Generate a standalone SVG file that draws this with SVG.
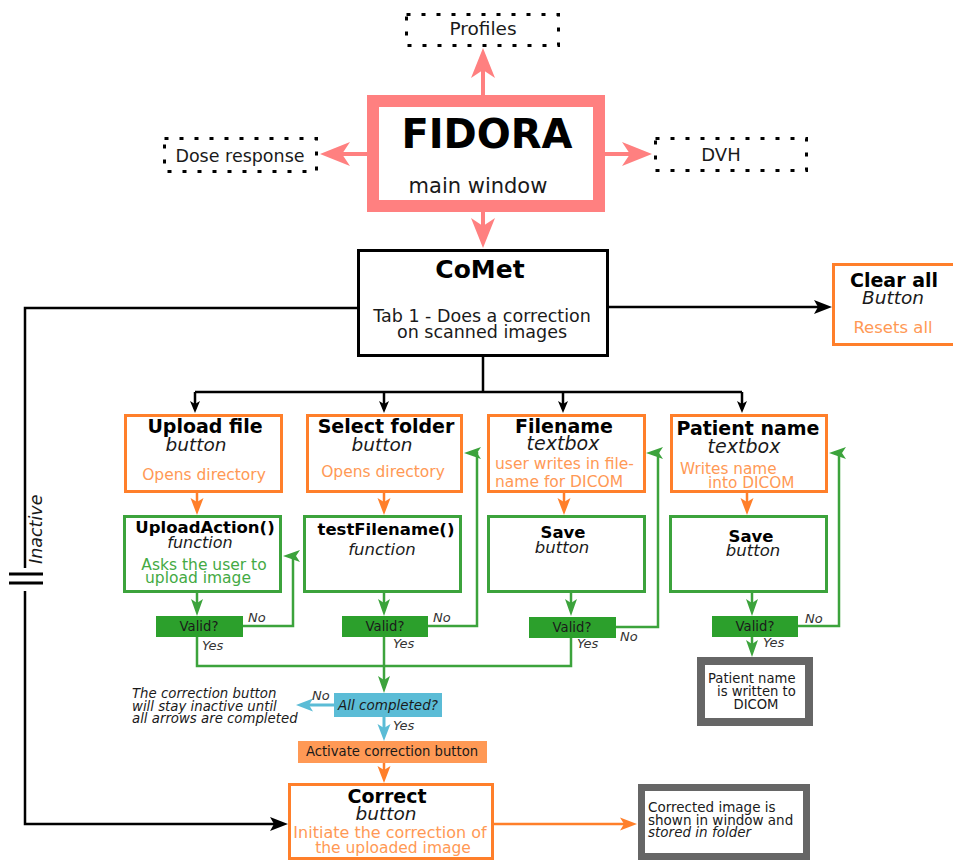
<svg xmlns="http://www.w3.org/2000/svg" width="953" height="861" viewBox="0 0 953 861">
<style>
text{font-family:"DejaVu Sans","Liberation Sans",sans-serif;}
.b{font-weight:bold;}
.i{font-style:italic;}
.m{text-anchor:middle;}
.k{fill:#000;}
.ot{fill:#ff9955;}
.gt{fill:#44aa44;}
.lab{font-style:italic;font-size:13px;fill:#333;}
.dot{fill:#fff;stroke:#000;stroke-width:3;stroke-dasharray:4 11;}
.ob{fill:#fff;stroke:#ff7f2a;stroke-width:3;}
.gb{fill:#fff;stroke:#3ca33c;stroke-width:3;}
.vb{fill:#2ca02c;}
.gray{fill:#fff;stroke:#666;}
.pk{fill:none;stroke:#ff8080;stroke-width:4;}
.bl{fill:none;stroke:#000;stroke-width:2.5;}
.gl{fill:none;stroke:#3ca33c;stroke-width:2.5;}
.ol{fill:none;stroke:#ff7f2a;stroke-width:2.5;}
.cl{fill:none;stroke:#5bbcd6;stroke-width:3;}
</style>
<defs>
<marker id="aPink" markerUnits="userSpaceOnUse" viewBox="-22 -13 34 26" markerWidth="34" markerHeight="26" refX="0" refY="0" orient="auto" overflow="visible"><path d="M10,0 L-20,-12 L-12,0 L-20,12 Z" fill="#ff8080"/></marker>
<marker id="aBlk" markerUnits="userSpaceOnUse" viewBox="-10 -6 16 12" markerWidth="16" markerHeight="12" refX="0" refY="0" orient="auto" overflow="visible"><path d="M4,0 L-8,-5 L-5,0 L-8,5 Z" fill="#000"/></marker>
<marker id="aBlkL" markerUnits="userSpaceOnUse" viewBox="-15 -8 22 16" markerWidth="22" markerHeight="16" refX="0" refY="0" orient="auto" overflow="visible"><path d="M5,0 L-13,-7 L-9,0 L-13,7 Z" fill="#000"/></marker>
<marker id="aOr" markerUnits="userSpaceOnUse" viewBox="-14 -8 20 16" markerWidth="20" markerHeight="16" refX="0" refY="0" orient="auto" overflow="visible"><path d="M5,0 L-12,-6.5 L-8,0 L-12,6.5 Z" fill="#ff7f2a"/></marker>
<marker id="aGr" markerUnits="userSpaceOnUse" viewBox="-14 -8 20 16" markerWidth="20" markerHeight="16" refX="0" refY="0" orient="auto" overflow="visible"><path d="M5,0 L-12,-6 L-8,0 L-12,6 Z" fill="#3ca33c"/></marker>
<marker id="aCy" markerUnits="userSpaceOnUse" viewBox="-14 -8 20 16" markerWidth="20" markerHeight="16" refX="0" refY="0" orient="auto" overflow="visible"><path d="M5,0 L-12,-6.5 L-8,0 L-12,6.5 Z" fill="#5bbcd6"/></marker>
</defs>
<rect width="953" height="861" fill="#fff"/>

<g id="connectors">
<path class="pk" d="M483,95 V58" marker-end="url(#aPink)"/>
<path class="pk" d="M367,154 H330" marker-end="url(#aPink)"/>
<path class="pk" d="M605,154 H642" marker-end="url(#aPink)"/>
<path class="pk" d="M483,212 V238" marker-end="url(#aPink)"/>
<path class="bl" d="M609,307 H827" marker-end="url(#aBlkL)"/>
<path class="bl" d="M483,357 V392 M195,392 H742"/>
<path class="bl" d="M195,392 V409" marker-end="url(#aBlk)"/>
<path class="bl" d="M384,392 V409" marker-end="url(#aBlk)"/>
<path class="bl" d="M563,392 V409" marker-end="url(#aBlk)"/>
<path class="bl" d="M742,392 V409" marker-end="url(#aBlk)"/>
<path class="bl" d="M357,308 H25 V568"/>
<path d="M9,574 H43 M9,583 H43" stroke="#000" stroke-width="3"/>
<path class="bl" d="M25,591 V824 H283" marker-end="url(#aBlkL)"/>
<text class="i" font-size="17.5" fill="#1a1a1a" transform="translate(42,564) rotate(-90)">Inactive</text>
<path class="ol" d="M197,493 V510" marker-end="url(#aOr)"/>
<path class="ol" d="M384,493 V510" marker-end="url(#aOr)"/>
<path class="ol" d="M564,493 V510" marker-end="url(#aOr)"/>
<path class="ol" d="M747,493 V510" marker-end="url(#aOr)"/>
<path class="gl" d="M197,593 V611" marker-end="url(#aGr)"/>
<path class="gl" d="M384,593 V611" marker-end="url(#aGr)"/>
<path class="gl" d="M571,593 V611" marker-end="url(#aGr)"/>
<path class="gl" d="M752,593 V611" marker-end="url(#aGr)"/>
<path class="gl" d="M243,626 H293 V556 H288" marker-end="url(#aGr)"/>
<path class="gl" d="M428,626 H477 V453 H469" marker-end="url(#aGr)"/>
<path class="gl" d="M616,627 H658 V453 H651" marker-end="url(#aGr)"/>
<path class="gl" d="M798,626 H839 V453 H834" marker-end="url(#aGr)"/>
<path class="gl" d="M197,637 V666 H571 V637"/>
<path class="gl" d="M384,637 V688" marker-end="url(#aGr)"/>
<path class="gl" d="M752,637 V652" marker-end="url(#aGr)"/>
<text class="lab" x="248" y="622">No</text>
<text class="lab" x="202" y="650">Yes</text>
<text class="lab" x="433" y="622">No</text>
<text class="lab" x="393" y="648">Yes</text>
<text class="lab" x="620" y="641">No</text>
<text class="lab" x="577" y="648">Yes</text>
<text class="lab" x="805" y="623">No</text>
<text class="lab" x="763" y="647">Yes</text>
<path class="cl" d="M334,705 H301" marker-end="url(#aCy)"/>
<path class="cl" d="M384,717 V736" marker-end="url(#aCy)"/>
<text class="lab" x="312" y="700">No</text>
<text class="lab" x="393" y="730">Yes</text>
<path class="ol" d="M384,763 V778" marker-end="url(#aOr)"/>
<path class="ol" d="M494,824 H632" marker-end="url(#aOr)"/>
</g>

<g id="fidora">
<rect x="373" y="101" width="226" height="105" fill="#fff" stroke="#ff8080" stroke-width="12"/>
<text class="b m k" x="487" y="148" font-size="40">FIDORA</text>
<text class="m" x="478" y="193" font-size="21" fill="#1a1a1a">main window</text>
</g>
<g id="profiles">
<rect class="dot" x="406.5" y="14.5" width="152" height="31"/>
<text class="m" x="483" y="35" font-size="18.5" fill="#1a1a1a">Profiles</text>
</g>
<g id="dose-response">
<rect class="dot" x="164.5" y="138.5" width="152" height="33"/>
<text class="m" x="240" y="162" font-size="17.5" fill="#1a1a1a">Dose response</text>
</g>
<g id="dvh">
<rect class="dot" x="655.5" y="138.5" width="151" height="32"/>
<text class="m" x="721" y="161" font-size="18" fill="#1a1a1a">DVH</text>
</g>

<g id="comet">
<rect x="358.5" y="250.5" width="249" height="105" fill="#fff" stroke="#000" stroke-width="3"/>
<text class="b m k" x="480" y="278" font-size="25">CoMet</text>
<text class="m" x="482" y="322" font-size="17.5" fill="#1a1a1a">Tab 1 - Does a correction</text>
<text class="m" x="482" y="338" font-size="17.5" fill="#1a1a1a">on scanned images</text>
</g>
<g id="clear-all">
<rect class="ob" x="833.5" y="264.5" width="130" height="80"/>
<text class="b m k" x="894" y="287" font-size="19">Clear all</text>
<text class="i m" x="893" y="304" font-size="18.5" fill="#1a1a1a">Button</text>
<text class="m ot" x="893" y="333" font-size="16.5">Resets all</text>
</g>

<g id="upload-file">
<rect class="ob" x="125.5" y="415.5" width="156" height="76"/>
<text class="b m k" x="205" y="433" font-size="19">Upload file</text>
<text class="i m" x="196" y="451" font-size="18.5" fill="#1a1a1a">button</text>
<text class="m ot" x="204" y="480" font-size="15.5">Opens directory</text>
</g>
<g id="select-folder">
<rect class="ob" x="307.5" y="415.5" width="154" height="76"/>
<text class="b m k" x="386" y="433" font-size="19">Select folder</text>
<text class="i m" x="382" y="451" font-size="18.5" fill="#1a1a1a">button</text>
<text class="m ot" x="383" y="477" font-size="15.5">Opens directory</text>
</g>
<g id="filename">
<rect class="ob" x="488.5" y="415.5" width="156" height="76"/>
<text class="b m k" x="564" y="433" font-size="19">Filename</text>
<text class="i m" x="563" y="450" font-size="19" fill="#1a1a1a">textbox</text>
<text class="ot" x="495" y="469" font-size="15.5">user writes in file-</text>
<text class="ot" x="495" y="487" font-size="15.5">name for DICOM</text>
</g>
<g id="patient-name">
<rect class="ob" x="671.5" y="415.5" width="155" height="76"/>
<text class="b m k" x="748" y="435" font-size="19">Patient name</text>
<text class="i m" x="744" y="453" font-size="19" fill="#1a1a1a">textbox</text>
<text class="ot" x="680" y="474" font-size="15.3">Writes name</text>
<text class="ot" x="708" y="488" font-size="15.3">into DICOM</text>
</g>

<g id="upload-action">
<rect class="gb" x="124.5" y="516.5" width="156" height="75"/>
<text class="b m k" x="205" y="533" font-size="16.5">UploadAction()</text>
<text class="i m" x="200" y="548" font-size="16" fill="#1a1a1a">function</text>
<text class="m gt" x="204" y="570" font-size="15.5">Asks the user to</text>
<text class="m gt" x="198" y="583" font-size="15.5">upload image</text>
</g>
<g id="test-filename">
<rect class="gb" x="304.5" y="516.5" width="156" height="75"/>
<text class="b m k" x="386" y="535" font-size="16.5">testFilename()</text>
<text class="i m" x="382" y="555" font-size="16.5" fill="#1a1a1a">function</text>
</g>
<g id="save-filename">
<rect class="gb" x="488.5" y="516.5" width="156" height="75"/>
<text class="b m k" x="563" y="538" font-size="16.5">Save</text>
<text class="i m" x="562" y="553" font-size="16.5" fill="#1a1a1a">button</text>
</g>
<g id="save-patient">
<rect class="gb" x="670.5" y="516.5" width="156" height="75"/>
<text class="b m k" x="751" y="542" font-size="16.5">Save</text>
<text class="i m" x="753" y="556" font-size="16.5" fill="#1a1a1a">button</text>
</g>

<g id="valid-1">
<rect class="vb" x="156" y="616" width="87" height="21"/>
<text class="m" x="199" y="631" font-size="13.2" fill="#1a1a1a">Valid?</text>
</g>
<g id="valid-2">
<rect class="vb" x="342" y="616" width="86" height="21"/>
<text class="m" x="385" y="631" font-size="13.2" fill="#1a1a1a">Valid?</text>
</g>
<g id="valid-3">
<rect class="vb" x="529" y="617" width="87" height="21"/>
<text class="m" x="572" y="632" font-size="13.2" fill="#1a1a1a">Valid?</text>
</g>
<g id="valid-4">
<rect class="vb" x="712" y="616" width="86" height="21"/>
<text class="m" x="755" y="631" font-size="13.2" fill="#1a1a1a">Valid?</text>
</g>

<g id="all-completed">
<rect x="334" y="693" width="108" height="24" fill="#5bbcd6"/>
<text class="i m" x="388" y="710" font-size="13.5" fill="#1a1a1a">All completed?</text>
</g>
<g id="inactive-note">
<text class="i" x="132" y="698" font-size="13.3" fill="#1a1a1a">The correction button</text>
<text class="i" x="132" y="711" font-size="13.3" fill="#1a1a1a">will stay inactive until</text>
<text class="i" x="132" y="723" font-size="13.3" fill="#1a1a1a">all arrows are completed</text>
</g>
<g id="activate">
<rect x="298" y="741" width="189" height="22" fill="#ff9955"/>
<text class="m" x="392" y="756" font-size="13.2" fill="#1a1a1a">Activate correction button</text>
</g>
<g id="correct">
<rect class="ob" x="289.5" y="784.5" width="203" height="74"/>
<text class="b m k" x="387" y="803" font-size="19">Correct</text>
<text class="i m" x="386" y="820" font-size="18.5" fill="#1a1a1a">button</text>
<text class="m ot" x="390" y="838" font-size="16">Initiate the correction of</text>
<text class="m ot" x="393" y="853" font-size="15.5">the uploaded image</text>
</g>
<g id="patient-written">
<rect class="gray" x="701" y="661" width="108" height="61" stroke-width="8"/>
<text x="708" y="683" font-size="13.2" fill="#1a1a1a">Patient name</text>
<text x="717" y="696" font-size="13.2" fill="#1a1a1a">is written to</text>
<text class="m" x="756" y="709" font-size="13.2" fill="#1a1a1a">DICOM</text>
</g>
<g id="corrected-image">
<rect class="gray" x="641.5" y="787.5" width="165" height="69" stroke-width="7"/>
<text x="648" y="812" font-size="13.5" fill="#1a1a1a">Corrected image is</text>
<text x="648" y="824.5" font-size="13.5" fill="#1a1a1a">shown in window and</text>
<text class="i" x="648" y="837" font-size="13.5" fill="#1a1a1a">stored in folder</text>
</g>
</svg>
